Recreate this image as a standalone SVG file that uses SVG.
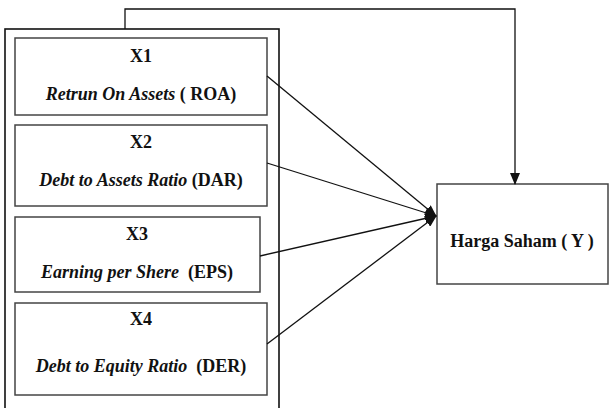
<svg xmlns="http://www.w3.org/2000/svg" width="609" height="408" viewBox="0 0 609 408">
<defs>
<style>
.box{fill:#fff;stroke:#444;stroke-width:1.5}
.outer{fill:none;stroke:#111;stroke-width:1.6}
.t{font-size:18px;font-weight:bold;fill:#111;text-anchor:middle}
.i{font-style:italic}
.c{fill:none;stroke:#111;stroke-width:1.3}
</style>
<marker id="ah" markerWidth="12" markerHeight="10" refX="11" refY="5" orient="auto" markerUnits="userSpaceOnUse">
<path d="M0,0 L12,5 L0,10 Z" fill="#111"/>
</marker>
</defs>
<rect width="609" height="408" fill="#fff"/>
<g id="group">
<rect class="outer" x="5" y="29" width="274" height="390"/>
</g>
<g font-family="'Liberation Serif', serif">
<g id="x1">
<rect class="box" x="15" y="38" width="252" height="77"/>
<text class="t" x="141" y="62">X1</text>
<text class="t" x="141" y="100"><tspan class="i">Retrun On Assets</tspan> ( ROA)</text>
</g>
<g id="x2">
<rect class="box" x="15" y="125" width="252" height="81"/>
<text class="t" x="141" y="148">X2</text>
<text class="t" x="141" y="186"><tspan class="i">Debt to Assets Ratio</tspan> (DAR)</text>
</g>
<g id="x3">
<rect class="box" x="15" y="217" width="245" height="75"/>
<text class="t" x="137" y="240">X3</text>
<text class="t" x="137" y="278" xml:space="preserve"><tspan class="i">Earning per Shere</tspan>  (EPS)</text>
</g>
<g id="x4">
<rect class="box" x="15" y="303" width="252" height="92"/>
<text class="t" x="141" y="325">X4</text>
<text class="t" x="141" y="372" xml:space="preserve"><tspan class="i">Debt to Equity Ratio</tspan>  (DER)</text>
</g>
<g id="y">
<rect class="box" x="437" y="184" width="171" height="100"/>
<text class="t" x="522" y="247">Harga Saham ( Y )</text>
</g>
</g>
<g id="connectors">
<line class="c" x1="267" y1="76" x2="436" y2="216" marker-end="url(#ah)"/>
<line class="c" x1="267" y1="163" x2="436" y2="216" marker-end="url(#ah)"/>
<line class="c" x1="260" y1="256" x2="436" y2="216" marker-end="url(#ah)"/>
<line class="c" x1="267" y1="344" x2="436" y2="216" marker-end="url(#ah)"/>
<polyline class="c" points="125,29 125,9 515,9 515,184" marker-end="url(#ah)"/>
</g>
</svg>
